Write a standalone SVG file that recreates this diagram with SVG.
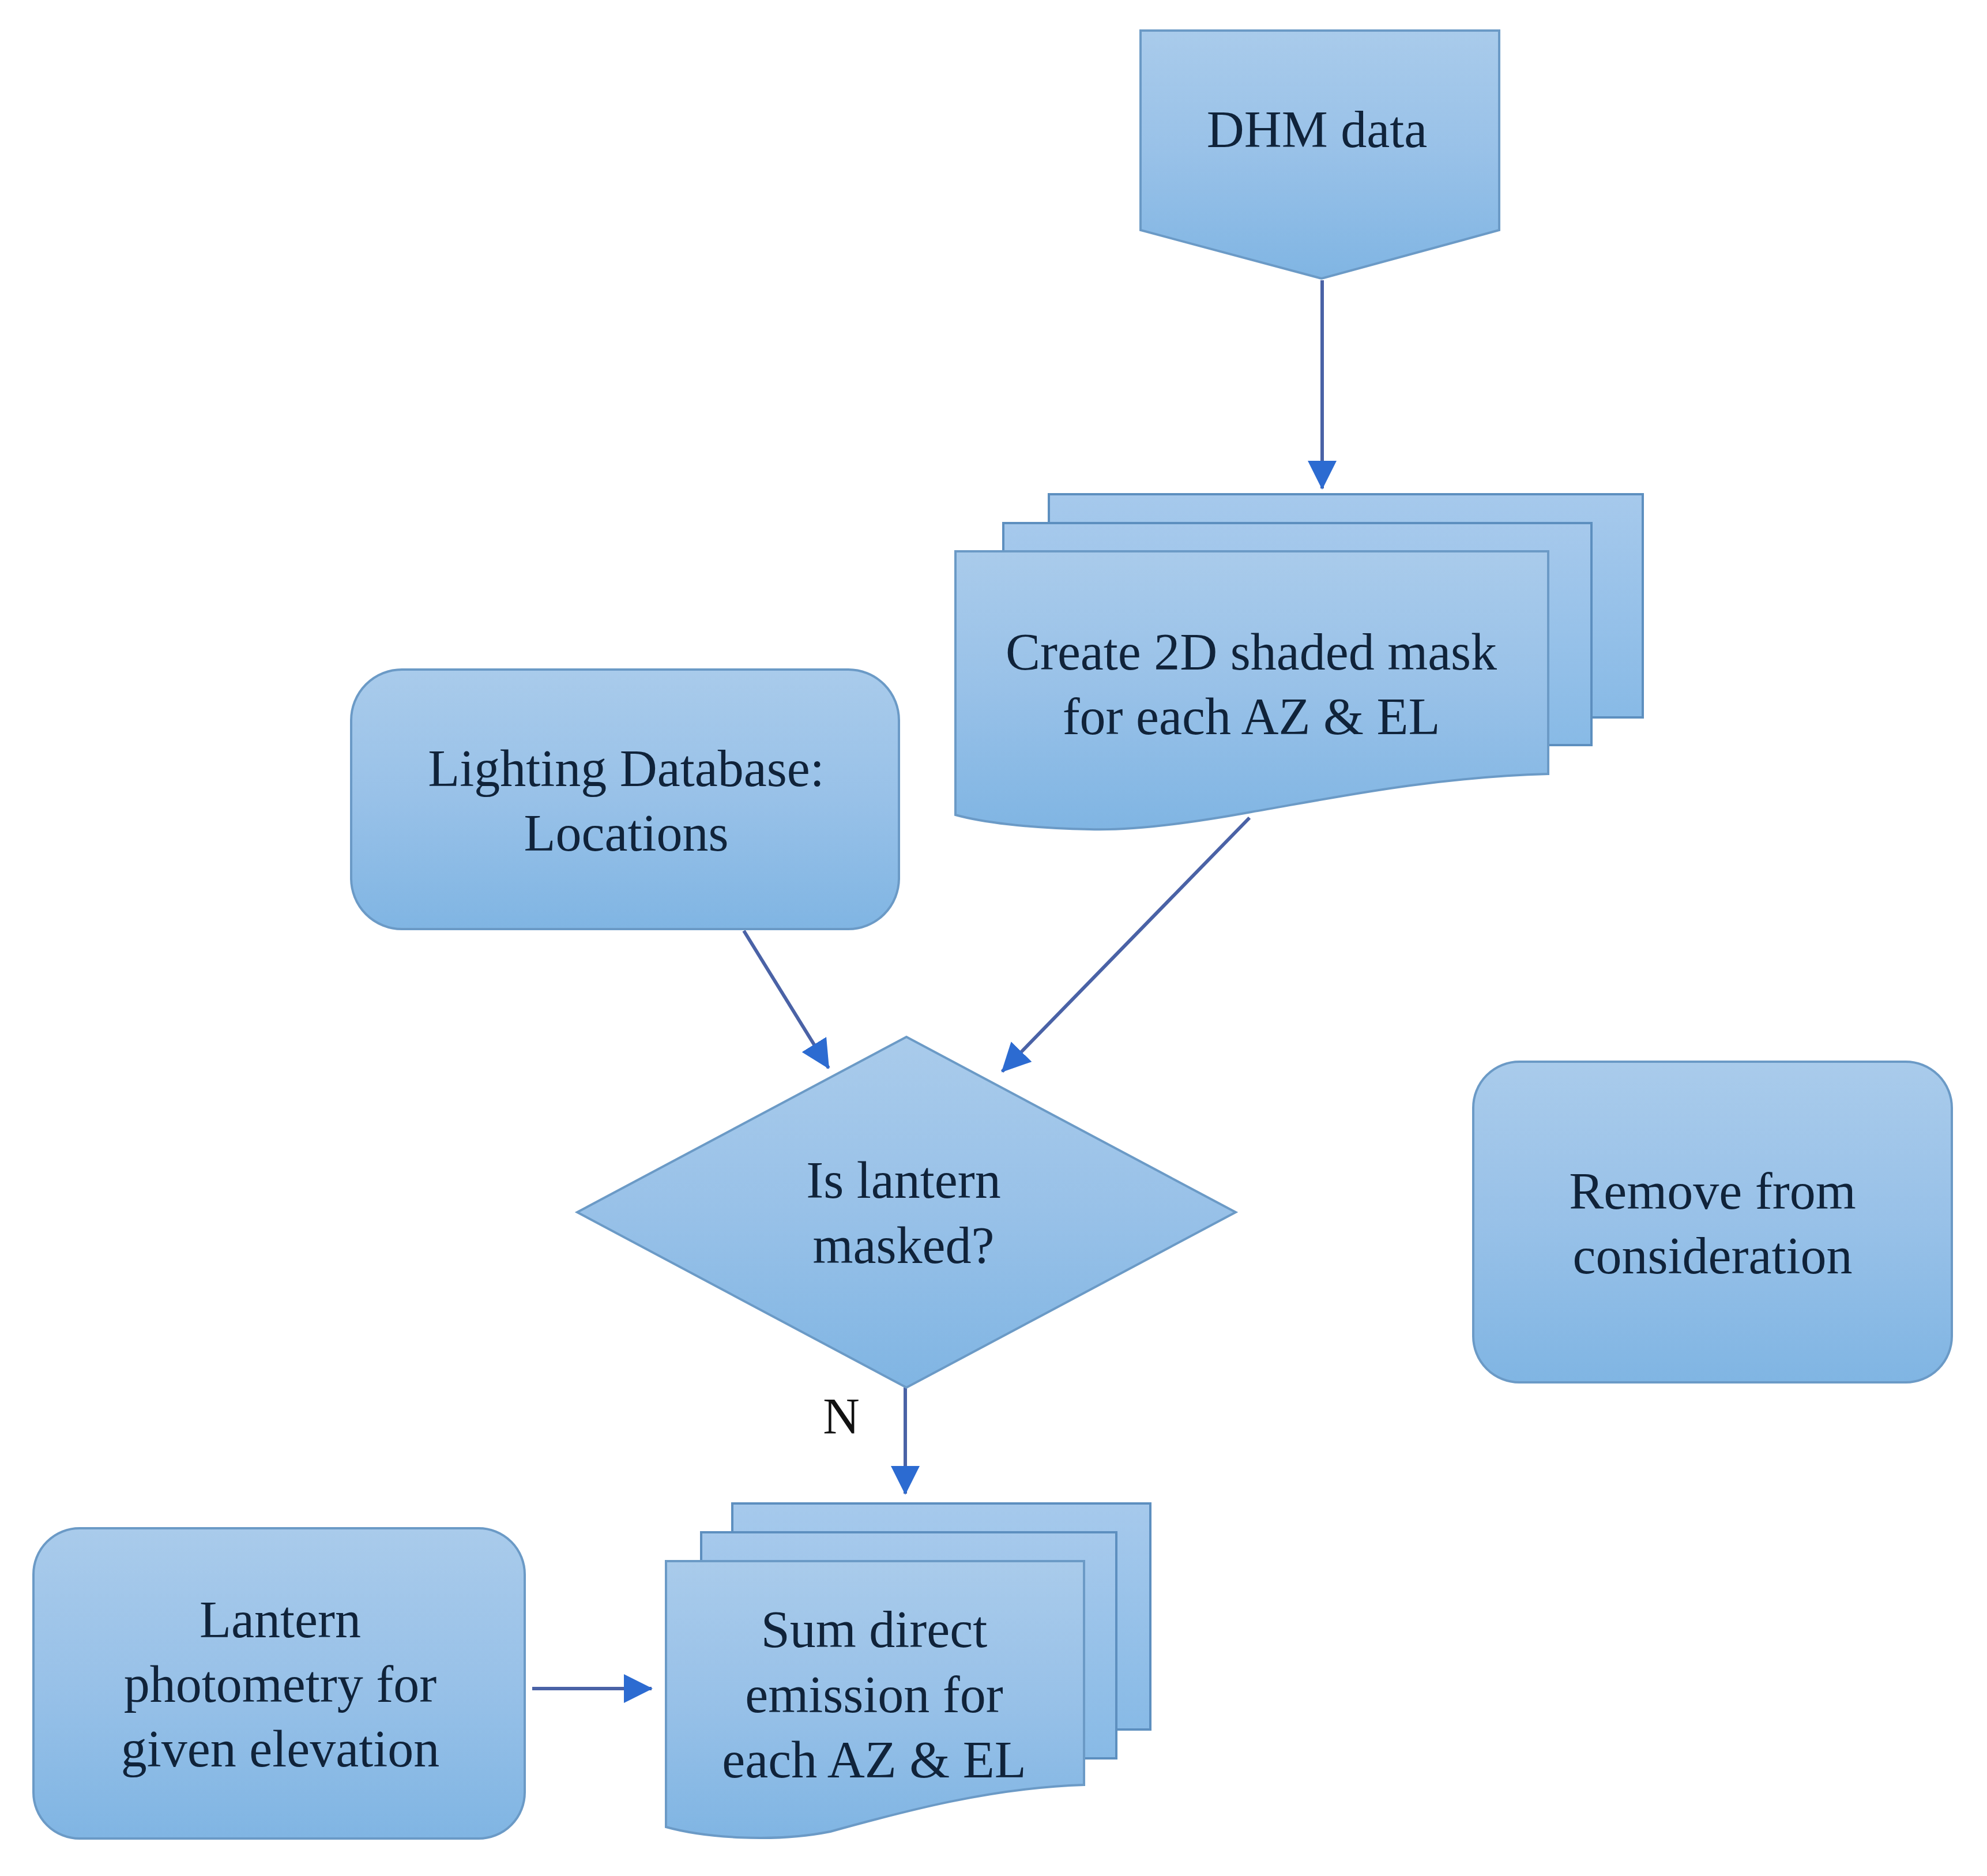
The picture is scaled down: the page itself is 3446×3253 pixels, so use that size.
<svg xmlns="http://www.w3.org/2000/svg" width="3446" height="3253" viewBox="0 0 3446 3253">
  <style>
    .shape { fill: url(#fillGrad); stroke: #6b9ac6; stroke-width: 4; }
    .page { fill: url(#pageGrad); stroke: #5d8fbf; stroke-width: 4; }
    .label { font-family: "Liberation Serif", "Times New Roman", serif; font-size: 90px; fill: #10233a; text-anchor: middle; }
    .edge { fill: none; stroke: #4a62a6; stroke-width: 6; marker-end: url(#arrow); }
    .edgeLabel { font-family: "Liberation Serif", "Times New Roman", serif; font-size: 88px; fill: #111111; text-anchor: middle; }
  </style>
  <defs>
    <linearGradient id="fillGrad" x1="0" y1="0" x2="0" y2="1">
      <stop offset="0" stop-color="#a9cbeb"/>
      <stop offset="0.5" stop-color="#98c1e8"/>
      <stop offset="1" stop-color="#80b5e3"/>
    </linearGradient>
    <linearGradient id="pageGrad" x1="0" y1="0" x2="0" y2="1">
      <stop offset="0" stop-color="#a6c9ec"/>
      <stop offset="1" stop-color="#88bae6"/>
    </linearGradient>
    <marker id="arrow" markerUnits="userSpaceOnUse" markerWidth="50" markerHeight="50" viewBox="0 0 50 50" refX="48" refY="25" orient="auto">
      <path d="M0,0 L50,25 L0,50 Z" fill="#2c6bd1"/>
    </marker>
  </defs>
  <rect x="0" y="0" width="3446" height="3253" fill="#ffffff"/>

  <g id="connectors">
    <line class="edge" x1="2293" y1="486" x2="2293" y2="847"/>
    <line class="edge" x1="1290" y1="1614" x2="1437" y2="1852"/>
    <line class="edge" x1="2167" y1="1418" x2="1738" y2="1858"/>
    <line class="edge" x1="1570" y1="2406" x2="1570" y2="2590"/>
    <line class="edge" x1="923" y1="2928" x2="1130" y2="2928"/>
    <text class="edgeLabel" x="1459" y="2485">N</text>
  </g>

  <g id="dhm-data">
    <path class="shape" d="M1978,53 H2600 V399 L2292,483 L1978,399 Z"/>
    <text class="label" x="2284" y="255">DHM data</text>
  </g>

  <g id="create-mask">
    <rect class="page" x="1819" y="857" width="1030" height="387"/>
    <rect class="page" x="1740" y="907" width="1020" height="385"/>
    <path class="shape" d="M1657,956 H2685 V1342 C2480,1348 2320,1382 2170,1408 C2050,1430 1960,1440 1890,1438 C1780,1436 1700,1425 1657,1413 Z"/>
    <text class="label" x="2170" y="1161">Create 2D shaded mask</text>
    <text class="label" x="2170" y="1273">for each AZ &amp; EL</text>
  </g>

  <g id="lighting-db">
    <rect class="shape" x="609" y="1161" width="950" height="450" rx="88" ry="88"/>
    <text class="label" x="1086" y="1363">Lighting Database:</text>
    <text class="label" x="1086" y="1475">Locations</text>
  </g>

  <g id="lantern-masked">
    <path class="shape" d="M1572,1798 L2143,2102 L1572,2406 L1001,2102 Z"/>
    <text class="label" x="1567" y="2077">Is lantern</text>
    <text class="label" x="1567" y="2190">masked?</text>
  </g>

  <g id="remove">
    <rect class="shape" x="2555" y="1841" width="830" height="556" rx="80" ry="80"/>
    <text class="label" x="2970" y="2096">Remove from</text>
    <text class="label" x="2970" y="2208">consideration</text>
  </g>

  <g id="lantern-photometry">
    <rect class="shape" x="58" y="2650" width="852" height="538" rx="80" ry="80"/>
    <text class="label" x="486" y="2839">Lantern</text>
    <text class="label" x="486" y="2951">photometry for</text>
    <text class="label" x="486" y="3063">given elevation</text>
  </g>

  <g id="sum-emission">
    <rect class="page" x="1270" y="2607" width="725" height="392"/>
    <rect class="page" x="1216" y="2657" width="720" height="392"/>
    <path class="shape" d="M1155,2707 H1880 V3095 C1720,3100 1570,3140 1440,3176 C1340,3196 1220,3186 1155,3168 Z"/>
    <text class="label" x="1516" y="2856">Sum direct</text>
    <text class="label" x="1516" y="2969">emission for</text>
    <text class="label" x="1516" y="3082">each AZ &amp; EL</text>
  </g>
</svg>
